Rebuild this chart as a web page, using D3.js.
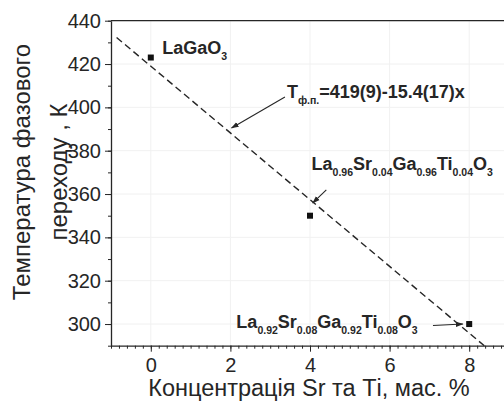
<!DOCTYPE html>
<html>
<head>
<meta charset="utf-8">
<script src="https://cdn.jsdelivr.net/npm/d3@7"></script>
<style>
  html, body { margin: 0; padding: 0; background: #fff; }
  svg { display: block; }
  text { font-family: "Liberation Sans", Arial, sans-serif; fill: #262626; }
</style>
</head>
<body>
<svg id="chart" width="504" height="403"></svg>
<script>
// ---- data ----
const concentration = [0, 4, 8];
const temperature = [423, 350, 300];
const fitIntercept = 419;
const fitSlope = -15.4;
const fitRange = [-0.86, 8.38];
const xTicks = [0, 2, 4, 6, 8];
const yTicks = [300, 320, 340, 360, 380, 400, 420, 440];
const xTitle = "Концентрація Sr та Ті, мас. %";
const yTitleLines = ["Температура фазового", "переходу , К"];
// labels: parts (text, subscript flag), anchor in data coords
const labelParts = [
  [["LaGaO", 0], ["3", 1]],
  [["T", 0], ["ф.п.", 1], ["=419(9)-15.4(17)x", 0]],
  [["La", 0], ["0.96", 1], ["Sr", 0], ["0.04", 1], ["Ga", 0], ["0.96", 1], ["Ti", 0], ["0.04", 1], ["O", 0], ["3", 1]],
  [["La", 0], ["0.92", 1], ["Sr", 0], ["0.08", 1], ["Ga", 0], ["0.92", 1], ["Ti", 0], ["0.08", 1], ["O", 0], ["3", 1]]
];
const labelX = [0.29, 3.42, 4.04, 2.15];
const labelY = [424.6, 404.3, 371.1, 298.0];
// arrows: [x, y] data coords
const arrowFrom = [[3.37, 404.8], [4.41, 361.9], [7.09, 299.3]];
const arrowTo = [[2.03, 390.5], [4.07, 355.9], [7.84, 300.0]];

// ---- layout ----
const svg = d3.select("#chart");
const mLeft = 111, mRight = 509, mTop = 20.7, mBottom = 345.7;
const x = d3.scaleLinear().domain([-1, 9]).range([mLeft, mRight]);
const y = d3.scaleLinear().domain([290, 440]).range([mBottom, mTop]);
const ink = "#262626";

// faint grid
const grid = svg.append("g").attr("stroke", "#f1f1f1").attr("stroke-width", 1);
grid.selectAll(".gx").data(xTicks).join("line")
  .attr("x1", d => x(d)).attr("x2", d => x(d)).attr("y1", mTop).attr("y2", mBottom);
grid.selectAll(".gy").data(yTicks).join("line")
  .attr("x1", mLeft).attr("x2", 504).attr("y1", d => y(d)).attr("y2", d => y(d));

// minor ticks
const xMinor = d3.range(-1, 9.001, 0.2).map(v => +v.toFixed(2));
const yMinor = d3.range(290, 440.001, 10);
svg.append("g").attr("transform", `translate(0,${mBottom})`)
  .call(d3.axisBottom(x).tickValues(xMinor).tickSize(3).tickFormat(""))
  .call(g => g.select(".domain").remove())
  .call(g => g.selectAll("line").attr("stroke", ink));
svg.append("g").attr("transform", `translate(${mLeft},0)`)
  .call(d3.axisLeft(y).tickValues(yMinor).tickSize(3).tickFormat(""))
  .call(g => g.select(".domain").remove())
  .call(g => g.selectAll("line").attr("stroke", ink));

// major axes
const xAxis = svg.append("g").attr("transform", `translate(0,${mBottom})`)
  .call(d3.axisBottom(x).tickValues(xTicks).tickSize(6).tickPadding(6).tickSizeOuter(0));
const yAxis = svg.append("g").attr("transform", `translate(${mLeft},0)`)
  .call(d3.axisLeft(y).tickValues(yTicks).tickSize(6).tickPadding(4).tickSizeOuter(0));
[xAxis, yAxis].forEach(a => {
  a.select(".domain").attr("stroke", ink).attr("stroke-width", 1.3);
  a.selectAll("line").attr("stroke", ink);
  a.selectAll("text").attr("font-size", 20).attr("fill", ink)
    .style("font-family", '"Liberation Sans", Arial, sans-serif');
});
// top frame
svg.append("line").attr("x1", mLeft).attr("x2", 504).attr("y1", mTop).attr("y2", mTop)
  .attr("stroke", ink).attr("stroke-width", 1.3);

// fit line
svg.append("line")
  .attr("x1", x(fitRange[0])).attr("y1", y(fitIntercept + fitSlope * fitRange[0]))
  .attr("x2", x(fitRange[1])).attr("y2", y(fitIntercept + fitSlope * fitRange[1]))
  .attr("stroke", ink).attr("stroke-width", 1.4).attr("stroke-dasharray", "7,4");

// points
svg.append("g").selectAll("rect").data(concentration).join("rect")
  .attr("x", (d, i) => x(d) - 3).attr("y", (d, i) => y(temperature[i]) - 3)
  .attr("width", 6).attr("height", 6).attr("fill", "#111");

// arrows
svg.append("defs").append("marker").attr("id", "ah")
  .attr("viewBox", "0 0 10 10").attr("refX", 9).attr("refY", 5)
  .attr("markerWidth", 7).attr("markerHeight", 7).attr("orient", "auto")
  .append("path").attr("d", "M0,1.5 L10,5 L0,8.5 Z").attr("fill", ink);
svg.append("g").selectAll("line").data(arrowFrom).join("line")
  .attr("x1", d => x(d[0])).attr("y1", d => y(d[1]))
  .attr("x2", (d, i) => x(arrowTo[i][0])).attr("y2", (d, i) => y(arrowTo[i][1]))
  .attr("stroke", ink).attr("stroke-width", 1.1).attr("marker-end", "url(#ah)");

// labels
labelParts.forEach((parts, i) => {
  const t = svg.append("text").attr("x", x(labelX[i])).attr("y", y(labelY[i]))
    .attr("font-weight", "bold").attr("font-size", 18);
  let sub = 0;
  parts.forEach(([s, isSub]) => {
    const dy = isSub && !sub ? 6 : (!isSub && sub ? -6 : 0);
    t.append("tspan").attr("dy", dy).attr("font-size", isSub ? 10.5 : 18).text(s);
    sub = isSub;
  });
});

// axis titles
svg.append("text").attr("x", 309).attr("y", 396).attr("text-anchor", "middle")
  .attr("font-size", 23.5).text(xTitle);
yTitleLines.forEach((line, i) => {
  svg.append("text")
    .attr("transform", `translate(${30 + i * 37},172) rotate(-90)`)
    .attr("text-anchor", "middle").attr("font-size", 24).text(line);
});
</script>
</body>
</html>
